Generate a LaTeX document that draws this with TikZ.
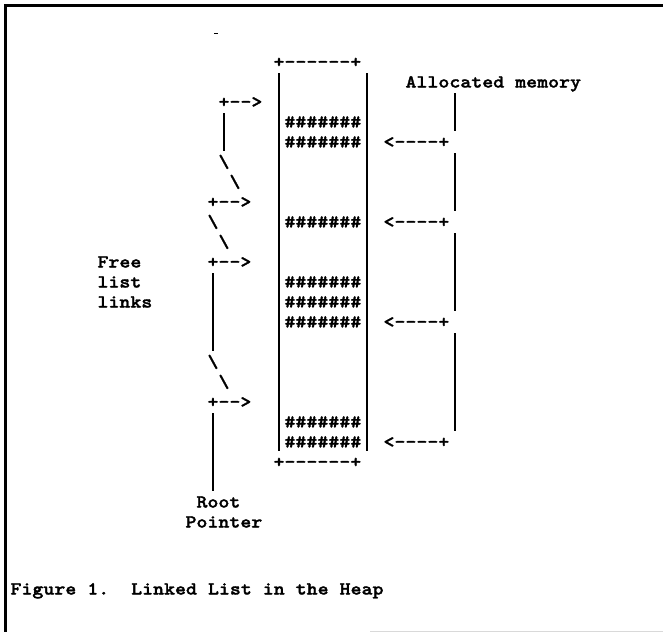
\documentclass[tikz,border=0pt]{standalone}
\usepackage{fontspec}
\setmonofont{Latin Modern Mono Light}[FakeStretch=1.14, BoldFeatures={FakeBold=1.6}]
\frenchspacing
\tikzset{
  ch/.style={anchor=base west, inner sep=0pt, outer sep=0pt,
    font=\ttfamily\bfseries\fontsize{18.33}{20}\selectfont},
  bar/.style={line width=2pt},
  frame/.style={line width=3pt},
}
% \AT{col}{row}{name}{text}: text whose first character sits in cell (col,row)
\newcommand\AT[4]{\node[ch] (#3) at ({273.5+11*(#1)},{67.5+20*(#2)}) {#4};}
% \VB{col}{first row}{last row}{name}: vertical bar through whole cells
\newcommand\VB[4]{%
  \coordinate (#4-t) at ({279+11*(#1)},{53+20*(#2)});
  \coordinate (#4-b) at ({279+11*(#1)},{71+20*(#3)});
  \draw[bar] (#4-t) -- (#4-b);}
\begin{document}
\begin{tikzpicture}[x=1pt,y=-1pt]
\useasboundingbox (0,0) rectangle (663,632);
% frame
\coordinate (fr-tr) at (663,5);
\coordinate (fr-tl) at (5,5);
\coordinate (fr-bl) at (5,632);
\draw[frame] (fr-tr) -- (fr-tl) -- (fr-bl);
\coordinate (fb-l) at (370,631);
\coordinate (fb-r) at (663,631);
\draw[line width=1pt, black!15] (fb-l) -- (fb-r);
\coordinate (sp-a) at (214,33);
\coordinate (sp-b) at (218,33);
\draw[line width=1pt] (sp-a) -- (sp-b);

% heap box
\AT{0}{0}{boxtop}{+------+}
\AT{0}{20}{boxbot}{+------+}
\VB{0}{1}{19}{boxL}
\VB{8}{1}{19}{boxR}
\AT{1}{3}{h3}{\#\#\#\#\#\#\#}
\AT{1}{4}{h4}{\#\#\#\#\#\#\#}
\AT{1}{8}{h8}{\#\#\#\#\#\#\#}
\AT{1}{11}{h11}{\#\#\#\#\#\#\#}
\AT{1}{12}{h12}{\#\#\#\#\#\#\#}
\AT{1}{13}{h13}{\#\#\#\#\#\#\#}
\AT{1}{18}{h18}{\#\#\#\#\#\#\#}
\AT{1}{19}{h19}{\#\#\#\#\#\#\#}

% allocated memory
\AT{12}{1}{alloc}{Allocated memory}
\AT{10}{4}{a4}{<----+}
\AT{10}{8}{a8}{<----+}
\AT{10}{13}{a13}{<----+}
\AT{10}{19}{a19}{<----+}
\VB{16}{2}{3}{am1}
\VB{16}{5}{7}{am2}
\VB{16}{9}{12}{am3}
\VB{16}{14}{18}{am4}

% free list
\AT{-16}{10}{free}{Free}
\AT{-16}{11}{list}{list}
\AT{-16}{12}{links}{links}
\AT{-5}{2}{f2}{+-->}
\VB{-5}{3}{4}{fl1}
\AT{-5}{5}{s5}{\textbackslash}
\AT{-4}{6}{s6}{\textbackslash}
\AT{-6}{7}{f7}{+-->}
\AT{-6}{8}{s8}{\textbackslash}
\AT{-5}{9}{s9}{\textbackslash}
\AT{-6}{10}{f10}{+-->}
\VB{-6}{11}{14}{fl2}
\AT{-6}{15}{s15}{\textbackslash}
\AT{-5}{16}{s16}{\textbackslash}
\AT{-6}{17}{f17}{+-->}
\VB{-6}{18}{21}{fl3}
\AT{-7}{22}{root}{Root}
\AT{-8}{23}{ptr}{Pointer}

% caption
\node[ch] (cap) at (10.5,594.5) {Figure 1.\ \ Linked List in the Heap};
\end{tikzpicture}
\end{document}
